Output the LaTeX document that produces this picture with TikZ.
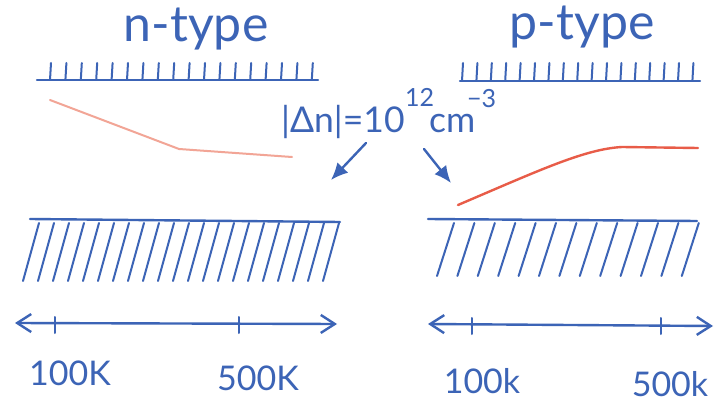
\documentclass[tikz,border=0pt]{standalone}
\usepackage{fontspec}
\setmainfont{Lato}
\usetikzlibrary{arrows.meta}
\definecolor{pen}{RGB}{60,100,182}
\definecolor{redpen}{RGB}{232,92,72}
\definecolor{pinkpen}{RGB}{242,165,150}
\begin{document}
\begin{tikzpicture}[x=1pt,y=-1pt,
  ink/.style={draw=pen,line width=2.4pt,line cap=round,line join=round},
  tick/.style={draw=pen,line width=2pt,line cap=round},
  hand/.style={text=pen,inner sep=0pt,font=\fontsize{50}{50}\selectfont},
  mid/.style={text=pen,inner sep=0pt,font=\fontsize{35.5}{36}\selectfont},
  axlab/.style={text=pen,inner sep=0pt,font=\fontsize{34}{34}\selectfont},
  small/.style={text=pen,inner sep=0pt,font=\fontsize{25}{25}\selectfont},
  barb/.style={{Straight Barb[length=14pt,width=18pt,line width=2.4pt]}-{Straight Barb[length=14pt,width=18pt,line width=2.4pt]}},
  cone/.style={-{Latex[length=17pt,width=15pt]}}]
\useasboundingbox (0,0) rectangle (715,406);
\fill[white] (0,0) rectangle (715,406);
% titles
\node[hand,anchor=base] (ntitle) at (196,42) {n-type};
\node[hand,anchor=base] (ptitle) at (582,40) {p-type};
% top bars (bands)
\coordinate (nbl) at (37,80); \coordinate (nbr) at (318,80);
\draw[ink] (nbl) -- (nbr);
\foreach \i in {0,...,17}{\draw[tick] (50+\i*15.4,80) -- (51+\i*15.4,63);}
\coordinate (pbl) at (460,81); \coordinate (pbr) at (700,81);
\draw[ink] (pbl) -- (pbr);
\foreach \i in {0,...,16}{\draw[tick] (462+\i*14.4,81) -- (463+\i*14.4,63);}
% red curves
\coordinate (na) at (50,100); \coordinate (nb) at (179,149); \coordinate (nc) at (292,157);
\draw[pinkpen,line width=2pt,line cap=round] (na) -- (nb) -- (nc);
\coordinate (pa) at (458,205); \coordinate (pb) at (622,147); \coordinate (pc) at (698,148);
\draw[redpen,line width=2.4pt,line cap=round] (pa) .. controls (540,170) and (585,149) .. (pb) -- (pc);
% label
\node[mid,anchor=base west] (dn) at (281,133) {|Δn|=10};
\node[small,anchor=base west] (e12) at (405,107) {12};
\node[mid,anchor=base west] (cm) at (429,133) {cm};
\node[small,anchor=base west] (e3) at (467,108) {−3};
\coordinate (a1s) at (366,143); \coordinate (a1e) at (331,180);
\coordinate (a2s) at (424,149); \coordinate (a2e) at (451,183);
\draw[ink,cone] (a1s) -- (a1e);
\draw[ink,cone] (a2s) -- (a2e);
% lower hatched bands
\coordinate (nll) at (30,219); \coordinate (nlr) at (340,222);
\draw[ink] (nll) -- (nlr);
\foreach \i in {0,...,20}{\draw[tick] (39+\i*15,223) -- (23+\i*15,281);}
\coordinate (pll) at (428,219); \coordinate (plr) at (697,221);
\draw[ink] (pll) -- (plr);
\foreach \i in {0,...,12}{\draw[tick] (454+\i*20.4,223) -- (437+\i*20.4,276);}
% axes
\coordinate (nxl) at (15,323); \coordinate (nxr) at (337,324);
\draw[ink,barb] (nxl) -- (nxr);
\draw[tick] (55,317) -- (55,333);
\draw[tick] (239,317) -- (239,333);
\coordinate (pxl) at (428,324); \coordinate (pxr) at (713,326);
\draw[ink,barb] (pxl) -- (pxr);
\draw[tick] (472,318) -- (472,334);
\draw[tick] (661,318) -- (661,334);
% axis labels
\node[axlab,anchor=base] (l1) at (70,385) {100K};
\node[axlab,anchor=base] (l2) at (258,390) {500K};
\node[axlab,anchor=base] (l3) at (482,393) {100k};
\node[axlab,anchor=base] (l4) at (670,396) {500k};
\end{tikzpicture}
\end{document}
